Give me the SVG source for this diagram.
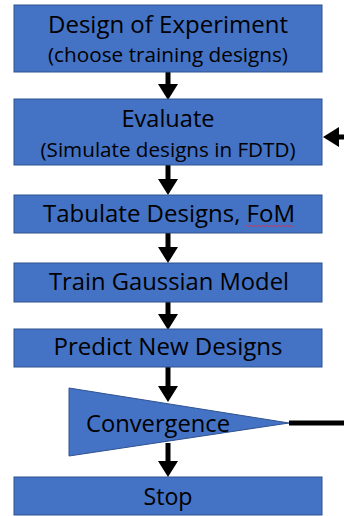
<svg xmlns="http://www.w3.org/2000/svg" width="344" height="516" viewBox="0 0 344 516">
  <style>
    .box { fill: #4472C4; stroke: #2F528F; stroke-width: 1; }
    .t { font-family: "Open Sans", "Noto Sans", sans-serif; fill: #000; text-anchor: middle; }
    .big { font-size: 23px; }
    .small { font-size: 19.5px; }
    .wire { stroke: #000; stroke-width: 5; fill: none; }
  </style>
  <defs>
    <marker id="head" markerUnits="userSpaceOnUse" markerWidth="16" markerHeight="20" refX="0" refY="10" orient="auto">
      <path d="M0,0 L16,10 L0,20 Z" fill="#000"/>
    </marker>
  </defs>

  <g id="connectors">
    <path class="wire" d="M168,72 V84" marker-end="url(#head)"/>
    <path class="wire" d="M168,165 V179" marker-end="url(#head)"/>
    <path class="wire" d="M168,233 V247" marker-end="url(#head)"/>
    <path class="wire" d="M168,302 V314" marker-end="url(#head)"/>
    <path class="wire" d="M168,367 V386" marker-end="url(#head)"/>
    <path class="wire" d="M168,443 V461" marker-end="url(#head)"/>
    <path class="wire" d="M289,423 H344"/>
    <path class="wire" d="M344,137 H339" marker-end="url(#head)"/>
  </g>

  <g id="design-of-experiment">
    <rect class="box" x="14" y="5" width="308" height="67"/>
    <text class="t big" x="168" y="33" textLength="240" lengthAdjust="spacingAndGlyphs">Design of Experiment</text>
    <text class="t small" x="168" y="62" textLength="240" lengthAdjust="spacingAndGlyphs">(choose training designs)</text>
  </g>

  <g id="evaluate">
    <rect class="box" x="14" y="99" width="308" height="66"/>
    <text class="t big" x="168" y="127" textLength="93" lengthAdjust="spacingAndGlyphs">Evaluate</text>
    <text class="t small" x="168" y="157" textLength="255" lengthAdjust="spacingAndGlyphs">(Simulate designs in FDTD)</text>
  </g>

  <g id="tabulate">
    <rect class="box" x="14" y="195" width="308" height="38"/>
    <text class="t big" x="169" y="222" textLength="252" lengthAdjust="spacingAndGlyphs">Tabulate Designs, FoM</text>
    <!-- spell-check squiggle under "FoM" -->
    <path d="M246,226 q1,-1.5 2,0 t2,0 t2,0 t2,0 t2,0 t2,0 t2,0 t2,0 t2,0 t2,0 t2,0 t2,0 t2,0 t2,0 t2,0 t2,0 t2,0 t2,0 t2,0 t2,0 t2,0 t2,0 t2,0 t2,0" stroke="#E0304A" stroke-width="0.8" fill="none"/>
  </g>

  <g id="train-model">
    <rect class="box" x="14" y="263" width="308" height="39"/>
    <text class="t big" x="169" y="290" textLength="240" lengthAdjust="spacingAndGlyphs">Train Gaussian Model</text>
  </g>

  <g id="predict">
    <rect class="box" x="14" y="329" width="308" height="38"/>
    <text class="t big" x="168" y="355" textLength="229" lengthAdjust="spacingAndGlyphs">Predict New Designs</text>
  </g>

  <g id="convergence">
    <polygon class="box" points="69,388 289,423 69,456"/>
    <text class="t big" x="158" y="432" textLength="144" lengthAdjust="spacingAndGlyphs">Convergence</text>
  </g>

  <g id="stop">
    <rect class="box" x="14" y="477" width="308" height="38"/>
    <text class="t big" x="168" y="505" textLength="49" lengthAdjust="spacingAndGlyphs">Stop</text>
  </g>
</svg>
